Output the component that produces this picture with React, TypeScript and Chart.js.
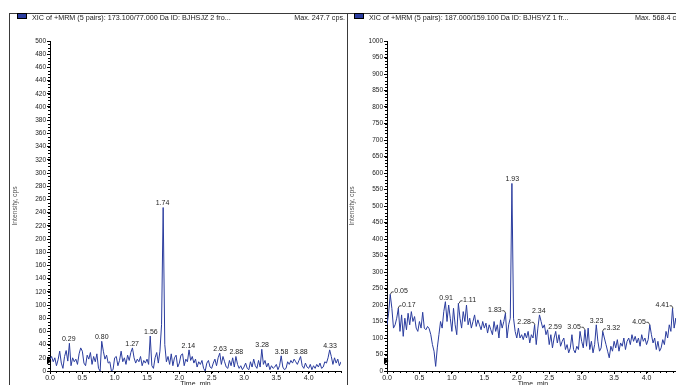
import React, { useEffect, useRef } from 'react';
import { Chart, registerables } from 'chart.js';

Chart.register(...registerables);
Chart.defaults.font.family = '"Liberation Sans", Arial, sans-serif';

// ---------- DATA ----------
const timeMin = [
  0, 0.025, 0.05, 0.075, 0.1, 0.125, 0.15, 0.175, 0.2, 0.225, 0.25, 0.275, 0.3, 0.325, 0.35, 0.375, 0.4, 0.425, 0.45, 0.475,
  0.5, 0.525, 0.55, 0.575, 0.6, 0.625, 0.65, 0.675, 0.7, 0.725, 0.75, 0.775, 0.8, 0.825, 0.85, 0.875, 0.9, 0.925, 0.95, 0.975,
  1, 1.025, 1.05, 1.075, 1.1, 1.125, 1.15, 1.175, 1.2, 1.225, 1.25, 1.275, 1.3, 1.325, 1.35, 1.375, 1.4, 1.425, 1.45, 1.475,
  1.5, 1.525, 1.55, 1.575, 1.6, 1.625, 1.65, 1.675, 1.7, 1.725, 1.75, 1.775, 1.8, 1.825, 1.85, 1.875, 1.9, 1.925, 1.95, 1.975,
  2, 2.025, 2.05, 2.075, 2.1, 2.125, 2.15, 2.175, 2.2, 2.225, 2.25, 2.275, 2.3, 2.325, 2.35, 2.375, 2.4, 2.425, 2.45, 2.475,
  2.5, 2.525, 2.55, 2.575, 2.6, 2.625, 2.65, 2.675, 2.7, 2.725, 2.75, 2.775, 2.8, 2.825, 2.85, 2.875, 2.9, 2.925, 2.95, 2.975,
  3, 3.025, 3.05, 3.075, 3.1, 3.125, 3.15, 3.175, 3.2, 3.225, 3.25, 3.275, 3.3, 3.325, 3.35, 3.375, 3.4, 3.425, 3.45, 3.475,
  3.5, 3.525, 3.55, 3.575, 3.6, 3.625, 3.65, 3.675, 3.7, 3.725, 3.75, 3.775, 3.8, 3.825, 3.85, 3.875, 3.9, 3.925, 3.95, 3.975,
  4, 4.025, 4.05, 4.075, 4.1, 4.125, 4.15, 4.175, 4.2, 4.225, 4.25, 4.275, 4.3, 4.325, 4.35, 4.375, 4.4, 4.425, 4.45, 4.475, 4.5,
];

const intensityA = [
  18, 22, 14, 20, 8, 17, 30, 12, 4, 22, 31, 15, 42, 8, 20, 14, 18, 10, 26, 35,
  30, 12, 8, 24, 18, 28, 10, 22, 14, 26, 4, 0, 45, 30, 18, 24, 12, 14, 0, 2,
  20, 22, 8, 16, 30, 14, 20, 10, 24, 16, 28, 35, 20, 12, 18, 14, 22, 8, 16, 12,
  18, 10, 53, 8, 4, 20, 28, 12, 30, 70, 247.7, 40, 14, 22, 10, 26, 8, 20, 24, 6,
  12, 24, 26, 8, 18, 14, 32, 16, 22, 12, 18, 6, 14, 10, 16, 4, 0, 12, 16, 6,
  4, 12, 18, 8, 20, 27, 10, 22, 14, 6, 4, 16, 8, 20, 6, 22, 10, 4, 8, 2,
  6, 12, 4, 2, 14, 6, 18, 8, 4, 16, 6, 33, 10, 16, 6, 12, 2, 8, 4, 6,
  10, 2, 8, 23, 6, 2, 4, 14, 10, 16, 12, 18, 14, 10, 16, 22, 8, 4, 12, 6,
  4, 10, 2, 8, 4, 10, 6, 12, 4, 6, 14, 12, 20, 32, 22, 10, 20, 12, 18, 8, 14,
];

const intensityB = [
  140, 175, 232, 190, 130, 140, 160, 190, 120, 170, 105, 160, 125, 175, 140, 180, 150, 165, 130, 120,
  150, 130, 178, 130, 125, 135, 128, 110, 80, 60, 14, 70, 110, 150, 130, 180, 210, 150, 200, 160,
  120, 190, 140, 110, 205, 160, 130, 180, 150, 200, 140, 160, 130, 150, 170, 135, 155, 140, 125, 150,
  130, 145, 115, 140, 125, 110, 150, 120, 140, 100, 155, 130, 150, 175, 100, 140, 160, 568.4, 160, 120,
  100, 130, 100, 110, 95, 115, 100, 120, 85, 110, 100, 140, 80, 130, 170, 150, 130, 140, 110, 125,
  80, 110, 70, 100, 120, 85, 110, 75, 90, 100, 65, 80, 55, 70, 110, 65, 55, 75, 65, 120,
  90, 70, 125, 75, 130, 65, 90, 55, 80, 140, 90, 60, 70, 120, 100, 80, 60, 40, 75, 60,
  90, 70, 95, 60, 85, 75, 100, 65, 90, 100, 80, 110, 90, 105, 85, 100, 75, 110, 90, 100,
  80, 95, 140, 110, 85, 100, 65, 90, 60, 70, 95, 80, 120, 100, 140, 120, 190, 130, 160, 110, 100,
];

const peakTimesA = [0.29, 0.8, 1.27, 1.56, 1.74, 2.14, 2.63, 2.88, 3.28, 3.58, 3.88, 4.33];
const peakSidesA = ['c', 'c', 'c', 'c', 'c', 'c', 'c', 'c', 'c', 'c', 'c', 'c'];
const peakTimesB = [0.05, 0.17, 0.91, 1.11, 1.83, 1.93, 2.28, 2.34, 2.59, 3.05, 3.23, 3.32, 4.05, 4.41];
const peakSidesB = ['r', 'r', 'c', 'r', 'l', 'c', 'l', 'c', 'c', 'l', 'c', 'r', 'l', 'l'];

const yMaxA = 500;
const yStepA = 20;
const yMinorA = 5;
const yMaxB = 1000;
const yStepB = 50;
const yMinorB = 10;
const xMax = 4.5;
const xStep = 0.5;
const xLastLabel = 4.0;
const xMinor = 0.1;

const titleA = 'XIC of +MRM (5 pairs): 173.100/77.000 Da ID: BJHSJZ 2 fro...';
const maxTextA = 'Max. 247.7 cps.';
const titleB = 'XIC of +MRM (5 pairs): 187.000/159.100 Da ID: BJHSYZ 1 fr...';
const maxTextB = 'Max. 568.4 cps.';
const yTitle = 'Intensity, cps';
const xTitle = 'Time, min';
const thresholdA = 15;
const thresholdB = 30;

// ---------- STYLE ----------
const LINE = 'rgb(42,60,158)';
const TEXT = '#222';
const FRAME = '#3a3a3a';

interface PanelSpec {
  left: number;
  width: number;
  axisW: number;
  padRight: number;
  values: number[];
  peakTimes: number[];
  peakSides: string[];
  yMax: number;
  yStep: number;
  yMinor: number;
  title: string;
  maxText: string;
  frameX: number;
  legendX: number;
  titleX: number;
  maxX: number;
  maxAlign: CanvasTextAlign;
  yTitleX: number;
  threshold: number;
}

const panels: PanelSpec[] = [
  {
    left: 0, width: 347, axisW: 50, padRight: 6,
    values: intensityA, peakTimes: peakTimesA, peakSides: peakSidesA,
    yMax: yMaxA, yStep: yStepA, yMinor: yMinorA,
    title: titleA, maxText: maxTextA,
    frameX: 9.5, legendX: 17.5, titleX: 32, maxX: 345, maxAlign: 'right', yTitleX: 15,
    threshold: thresholdA,
  },
  {
    left: 347, width: 340, axisW: 40, padRight: 8,
    values: intensityB, peakTimes: peakTimesB, peakSides: peakSidesB,
    yMax: yMaxB, yStep: yStepB, yMinor: yMinorB,
    title: titleB, maxText: maxTextB,
    frameX: 0.5, legendX: 7.5, titleX: 22, maxX: 288, maxAlign: 'left', yTitleX: 5.5,
    threshold: thresholdB,
  },
];

function nearestIndex(t: number): number {
  let best = 0;
  let bd = Infinity;
  for (let i = 0; i < timeMin.length; i++) {
    const d = Math.abs(timeMin[i] - t);
    if (d < bd) { bd = d; best = i; }
  }
  return best;
}

function makeOverlay(spec: PanelSpec) {
  return {
    id: 'overlay',
    afterDraw(chart: any) {
      const ctx: CanvasRenderingContext2D = chart.ctx;
      const ca = chart.chartArea;
      const xs = chart.scales.x;
      const ys = chart.scales.y;
      const H = chart.height;
      ctx.save();

      // frame
      ctx.strokeStyle = FRAME;
      ctx.lineWidth = 1;
      ctx.beginPath();
      ctx.moveTo(spec.frameX, 13.5);
      ctx.lineTo(spec.frameX, H);
      ctx.moveTo(spec.frameX - 0.5, 13.5);
      ctx.lineTo(chart.width, 13.5);
      ctx.stroke();

      // legend square
      ctx.fillStyle = 'rgb(44,62,160)';
      ctx.fillRect(spec.legendX, 13.5, 9, 5);
      ctx.strokeStyle = '#000';
      ctx.strokeRect(spec.legendX, 13.5, 9, 5);

      // title texts
      ctx.fillStyle = TEXT;
      ctx.font = '7.2px "Liberation Sans", Arial, sans-serif';
      ctx.textBaseline = 'middle';
      ctx.textAlign = 'left';
      ctx.fillText(spec.title, spec.titleX, 18.5);
      ctx.textAlign = spec.maxAlign;
      ctx.fillText(spec.maxText, spec.maxX, 18.5);

      // y title
      ctx.save();
      ctx.translate(spec.yTitleX, 206);
      ctx.rotate(-Math.PI / 2);
      ctx.textAlign = 'center';
      ctx.textBaseline = 'middle';
      ctx.fillStyle = '#555';
      ctx.font = '6.8px "Liberation Sans", Arial, sans-serif';
      ctx.fillText(yTitle, 0, 0);
      ctx.restore();

      // x title (cut off at bottom)
      ctx.textAlign = 'center';
      ctx.textBaseline = 'top';
      ctx.fillStyle = TEXT;
      ctx.font = '7px "Liberation Sans", Arial, sans-serif';
      ctx.fillText(xTitle, (ca.left + ca.right) / 2, 381);

      // minor ticks
      ctx.strokeStyle = '#000';
      ctx.beginPath();
      for (let k = 0; k <= Math.round(xMax / xMinor); k++) {
        const v = k * xMinor;
        const px = Math.round(xs.getPixelForValue(v)) + 0.5;
        ctx.moveTo(px, ca.bottom);
        ctx.lineTo(px, ca.bottom + 2);
      }
      for (let k = 0; k <= Math.round(spec.yMax / spec.yMinor); k++) {
        const v = k * spec.yMinor;
        const py = Math.round(ys.getPixelForValue(v)) + 0.5;
        ctx.moveTo(ca.left, py);
        ctx.lineTo(ca.left - 2, py);
      }
      ctx.stroke();

      // threshold marker
      const ty = ys.getPixelForValue(spec.threshold);
      ctx.fillStyle = '#000';
      ctx.beginPath();
      ctx.moveTo(ca.left - 3, ty - 3.5);
      ctx.lineTo(ca.left + 1.5, ty);
      ctx.lineTo(ca.left - 3, ty + 3.5);
      ctx.closePath();
      ctx.fill();

      // peak labels
      ctx.font = '7px "Liberation Sans", Arial, sans-serif';
      ctx.fillStyle = TEXT;
      spec.peakTimes.forEach((t, i) => {
        const idx = nearestIndex(t);
        const v = spec.values[idx];
        const px = xs.getPixelForValue(t);
        const py = ys.getPixelForValue(v);
        const txt = t.toFixed(2);
        const side = spec.peakSides[i];
        if (side === 'c') {
          ctx.textAlign = 'center';
          ctx.textBaseline = 'bottom';
          ctx.fillText(txt, px, py - 0.5);
        } else {
          ctx.strokeStyle = '#222';
          ctx.lineWidth = 0.8;
          ctx.beginPath();
          const dir = side === 'r' ? 1 : -1;
          ctx.moveTo(px, py);
          ctx.lineTo(px + dir * 1.5, py - 2.5);
          ctx.lineTo(px + dir * 3.5, py - 2.5);
          ctx.stroke();
          ctx.textAlign = side === 'r' ? 'left' : 'right';
          ctx.textBaseline = 'middle';
          ctx.fillText(txt, px + dir * 4, py - 3);
        }
      });

      ctx.restore();
    },
  };
}

function Panel({ spec }: { spec: PanelSpec }) {
  const ref = useRef<HTMLCanvasElement | null>(null);
  useEffect(() => {
    if (!ref.current) return;
    const chart = new Chart(ref.current, {
      type: 'line',
      data: {
        labels: timeMin,
        datasets: [
          {
            data: spec.values,
            borderColor: LINE,
            borderWidth: 1,
            pointRadius: 0,
            tension: 0,
            fill: false,
          },
        ],
      },
      options: {
        responsive: false,
        animation: false,
        devicePixelRatio: 1,
        events: [],
        layout: { padding: { left: 0, right: spec.padRight, top: 41, bottom: 0 } },
        plugins: { legend: { display: false }, tooltip: { enabled: false } },
        scales: {
          x: {
            type: 'linear',
            min: 0,
            max: xMax,
            ticks: {
              stepSize: xStep,
              autoSkip: false,
              maxRotation: 0,
              padding: 0,
              color: TEXT,
              font: { size: 7 },
              callback: (v: any) => Number(v).toFixed(1),
            },
            afterBuildTicks: (s: any) => {
              s.ticks = s.ticks.filter((t: any) => t.value <= xLastLabel + 1e-6);
            },
            afterFit: (s: any) => {
              s.height = 14;
            },
            grid: { display: true, drawOnChartArea: false, drawTicks: true, tickLength: 3, color: '#000' },
            border: { display: true, color: '#000', width: 1 },
          },
          y: {
            type: 'linear',
            min: 0,
            max: spec.yMax,
            ticks: {
              stepSize: spec.yStep,
              autoSkip: false,
              padding: 1,
              color: TEXT,
              font: { size: 6.5 },
              callback: (v: any) => String(v),
            },
            afterFit: (s: any) => {
              s.width = spec.axisW;
            },
            grid: { display: true, drawOnChartArea: false, drawTicks: true, tickLength: 3, color: '#000' },
            border: { display: true, color: '#000', width: 1 },
          },
        },
      },
      plugins: [makeOverlay(spec)],
    } as any);
    return () => chart.destroy();
  }, [spec]);
  return (
    <canvas
      ref={ref}
      width={spec.width}
      height={385}
      style={{ position: 'absolute', left: spec.left, top: 0, width: spec.width, height: 385 }}
    />
  );
}

export default function App() {
  return (
    <div
      style={{
        position: 'absolute',
        left: 0,
        top: 0,
        width: 676,
        height: 385,
        overflow: 'hidden',
        background: '#fff',
      }}
    >
      {panels.map((p, i) => (
        <Panel key={i} spec={p} />
      ))}
    </div>
  );
}
